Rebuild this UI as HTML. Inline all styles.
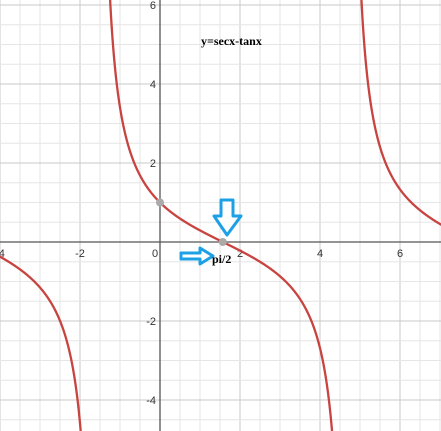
<!DOCTYPE html>
<html><head><meta charset="utf-8"><style>
html,body{margin:0;padding:0;background:#fff;width:441px;height:431px;overflow:hidden;}
svg{display:block;font-family:"Liberation Sans",sans-serif;overflow:hidden;}
</style></head><body>
<svg id="chart" width="441" height="431" viewBox="0 0 441 431" xmlns="http://www.w3.org/2000/svg">
<g id="grid"></g>
<g id="axes"></g>
<g id="labels"></g>
<g id="curve"></g>
<g id="pts"></g>
<text x="201" y="45" font-family="Liberation Serif,serif" font-weight="bold" font-size="12">y=secx-tanx</text>
<g>
<polygon points="221,200 233,200 233,216 241,216 227,235 214,216 221,216" fill="#fff" stroke="#1ea0e6" stroke-width="3" stroke-linejoin="round"/>
</g>
<g>
<polygon points="181,253 200,253 200,248 213,256 200,264 200,259 181,259" fill="#fff" stroke="#1ea0e6" stroke-width="3" stroke-linejoin="round"/>
</g>
<text x="212" y="263" font-family="Liberation Serif,serif" font-weight="bold" font-size="12">pi/2</text>
</svg>
<script>
const xTicks=[-4,-2,0,2,4,6];
const yTicks=[-4,-2,2,4,6];
const markedX=[0,Math.PI/2];
const markedY=[1,0];
const X0=160,Y0=242,SX=40,SY=39.5;
const sx=x=>X0+x*SX, sy=y=>Y0-y*SY;
const NS="http://www.w3.org/2000/svg";
function mk(t,a,p){const e=document.createElementNS(NS,t);for(const k in a)e.setAttribute(k,a[k]);p.appendChild(e);return e;}
const grid=document.getElementById('grid');
for(let i=-8;i<=16;i++){const x=sx(i/2);const major=i%4===0;
const l=mk('line',{x1:x,x2:x,y1:0,y2:431,stroke:major?'#c8c8c8':'#e6e6e6','stroke-width':1},grid);
}
for(let i=-12;i<=14;i++){const y=sy(i/2);if(y<0||y>431)continue;const major=i%4===0;
const l=mk('line',{x1:0,x2:441,y1:y,y2:y,stroke:major?'#c8c8c8':'#e6e6e6','stroke-width':1},grid);
}
const axes=document.getElementById('axes');
const xa=mk('line',{x1:0,x2:441,y1:Y0,y2:Y0,stroke:'#555','stroke-width':1.3},axes);

const ya=mk('line',{x1:X0,x2:X0,y1:0,y2:431,stroke:'#555','stroke-width':1.3},axes);

const lab=document.getElementById('labels');
xTicks.forEach(v=>{const t=mk('text',{x:v===0?sx(v)-5:sx(v),y:Y0+15,'text-anchor':'middle','font-size':11,fill:'#333'},lab);
t.textContent=v<0?'-'+Math.abs(v):String(v);
});
yTicks.forEach(v=>{const t=mk('text',{x:X0-4,y:sy(v)+4,'text-anchor':'end','font-size':11,fill:'#333'},lab);
t.textContent=v<0?'-'+Math.abs(v):String(v);
});
const f=x=>(1-Math.sin(x))/Math.cos(x);
const cv=document.getElementById('curve');
const asym=[-Math.PI/2,3*Math.PI/2];
const ranges=[[-4.1,asym[0]],[asym[0],asym[1]],[asym[1],7.1]];
const TOP=0,BOT=431;
ranges.forEach(([a,b])=>{let d='';let prev=null;let pen=false;
for(let x=a+0.0005;x<b;x+=0.0025){const y=f(x);if(!isFinite(y))continue;
const px=sx(x),py=sy(y);const inside=py>=TOP&&py<=BOT;
if(inside){
 if(!pen){
  if(prev){const edge=prev[1]<TOP?TOP:BOT;const t=(edge-prev[1])/(py-prev[1]);d+='M'+(prev[0]+t*(px-prev[0])).toFixed(2)+','+edge+'L'+px.toFixed(2)+','+py.toFixed(2);}
  else d+='M'+px.toFixed(2)+','+py.toFixed(2);
  pen=true;
 } else d+='L'+px.toFixed(2)+','+py.toFixed(2);
} else if(pen&&prev){const edge=py<TOP?TOP:BOT;const t=(edge-prev[1])/(py-prev[1]);d+='L'+(prev[0]+t*(px-prev[0])).toFixed(2)+','+edge;pen=false;}
prev=[px,py];}
const p=mk('path',{d:d,fill:'none',stroke:'#c74440','stroke-width':2.3},cv);
});
const pts=document.getElementById('pts');
markedX.forEach((x,i)=>{const c=mk('circle',{cx:sx(x),cy:sy(markedY[i]),r:4,fill:'#aaa'},pts);
});
</script>
</body></html>
